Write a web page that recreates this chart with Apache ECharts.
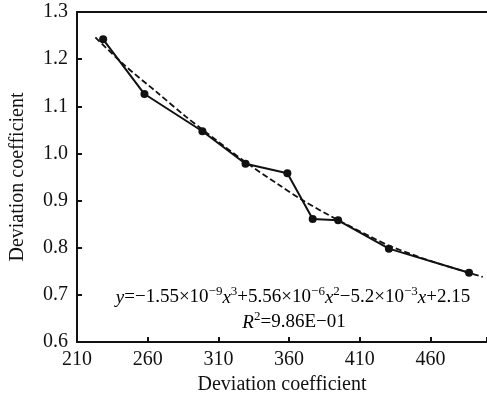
<!DOCTYPE html>
<html>
<head>
<meta charset="utf-8">
<script src="https://cdn.jsdelivr.net/npm/echarts@6/dist/echarts.min.js"></script>
<style>html,body{margin:0;padding:0;background:#fff}#c{width:487px;height:405px}</style>
</head>
<body>
<div id="c"></div>
<script>
var xValues = [228.5, 257.7, 298.7, 329.2, 358.8, 376.7, 394.7, 430.6, 487.3];
var yValues = [1.242, 1.126, 1.047, 0.978, 0.958, 0.861, 0.858, 0.798, 0.747];
var fitX = [223, 244, 266, 287, 299, 329, 353, 370, 395, 418, 431, 460, 487, 497];
var fitY = [1.246, 1.186, 1.131, 1.078, 1.050, 0.982, 0.933, 0.900, 0.858, 0.823, 0.804, 0.772, 0.747, 0.738];
var xTicks = [210, 260, 310, 360, 410, 460];
var yTicks = [0.6, 0.7, 0.8, 0.9, 1.0, 1.1, 1.2, 1.3];

var font = '"Liberation Serif", "Times New Roman", serif';
var chart = echarts.init(document.getElementById('c'));
var obs = xValues.map(function (x, i) { return [x, yValues[i]]; });
var fit = fitX.map(function (x, i) { return [x, fitY[i]]; });

var n = {fontFamily: font, fontSize: 19, color: '#111', verticalAlign: 'bottom', lineHeight: 22};
var it = {fontFamily: font, fontSize: 19, color: '#111', fontStyle: 'italic', verticalAlign: 'bottom', lineHeight: 22};
var sp = {fontFamily: font, fontSize: 13, color: '#111', verticalAlign: 'top', lineHeight: 16};

chart.setOption({
  animation: false,
  grid: {left: 74, top: 12, right: -5, bottom: 63},
  xAxis: [{
    type: 'value', min: 210, max: 500, interval: 50,
    name: 'Deviation coefficient', nameLocation: 'middle', nameGap: 33,
    nameTextStyle: {fontFamily: font, fontSize: 20, color: '#111'},
    axisLine: {lineStyle: {color: '#111', width: 2}},
    axisTick: {inside: true, length: 5, lineStyle: {color: '#111', width: 2}},
    axisLabel: {fontFamily: font, fontSize: 20, color: '#111', margin: 8,
      customValues: xTicks},
    splitLine: {show: false}
  }, {
    type: 'value', min: 210, max: 500, position: 'top',
    axisLine: {show: true, onZero: false, lineStyle: {color: '#111', width: 2}},
    axisTick: {show: false}, axisLabel: {show: false}, splitLine: {show: false}
  }],
  yAxis: {
    type: 'value', min: 0.6, max: 1.3, interval: 0.1,
    name: 'Deviation coefficient', nameLocation: 'middle', nameGap: 49,
    nameTextStyle: {fontFamily: font, fontSize: 20, color: '#111'},
    axisLine: {show: true, lineStyle: {color: '#111', width: 2}},
    axisTick: {inside: true, length: 5, lineStyle: {color: '#111', width: 2}},
    axisLabel: {fontFamily: font, fontSize: 20, color: '#111', margin: 9,
      formatter: function (v) { return v.toFixed(1); }},
    splitLine: {show: false}
  },
  series: [{
    type: 'line', data: fit, showSymbol: false, symbol: 'none', smooth: 0.3,
    lineStyle: {color: '#111', width: 1.8, type: [6, 3]}, z: 2
  }, {
    type: 'line', data: obs, symbol: 'circle', symbolSize: 8,
    itemStyle: {color: '#111'},
    lineStyle: {color: '#111', width: 2}, z: 3
  }],
  graphic: [{
    type: 'text', x: 293, y: 285,
    style: {
      align: 'center',
      text: '{i|y}{n|=−1.55×10}{s|−9}{i|x}{s|3}{n|+5.56×10}{s|−6}{i|x}{s|2}{n|−5.2×10}{s|−3}{i|x}{n|+2.15}',
      rich: {n: n, i: it, s: sp}
    }
  }, {
    type: 'text', x: 294, y: 310,
    style: {
      align: 'center',
      text: '{i|R}{s|2}{n|=9.86E−01}',
      rich: {n: n, i: it, s: sp}
    }
  }]
});
</script>
</body>
</html>
